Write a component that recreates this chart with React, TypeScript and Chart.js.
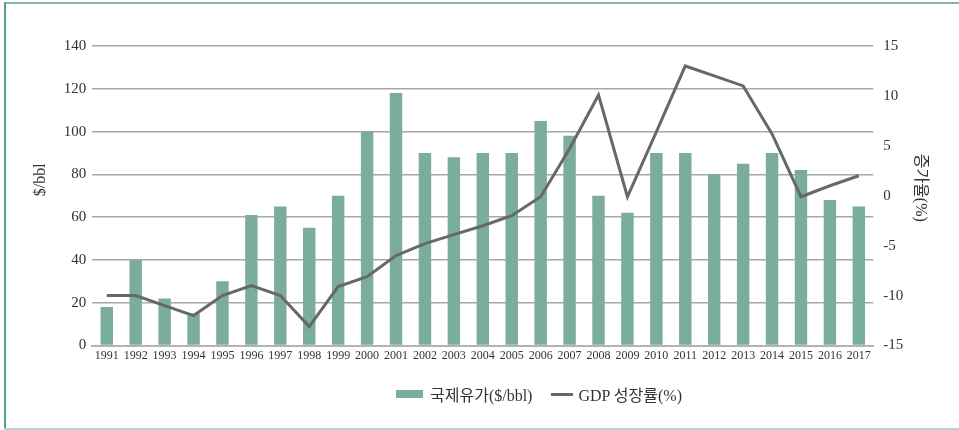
import React, { useEffect, useRef } from 'react';
import { Chart, registerables } from 'chart.js';

Chart.register(...registerables);

const years = ['1991', '1992', '1993', '1994', '1995', '1996', '1997', '1998', '1999', '2000', '2001', '2002', '2003', '2004', '2005', '2006', '2007', '2008', '2009', '2010', '2011', '2012', '2013', '2014', '2015', '2016', '2017'];
const oilPrice = [18, 40, 22, 15, 30, 61, 65, 55, 70, 100, 118, 90, 88, 90, 90, 105, 98, 70, 62, 90, 90, 80, 85, 90, 82, 68, 65];
const gdpGrowth = [-10, -10, -11, -12, -10, -9, -10, -13.1, -9.1, -8.1, -6, -4.8, -3.9, -3, -2, -0.1, 4.7, 10.1, -0.1, 6.4, 13, 12, 11, 6.2, -0.1, 1, 2];

const oilLabel = '국제유가($/bbl)';
const gdpLabel = 'GDP 성장률(%)';
const leftTitle = '        $/bbl';
const rightTitle = '증가율(%)    ';

const FONT = '"Liberation Serif", "Noto Sans CJK KR", serif';
const BAR_COLOR = '#7bad9b';
const LINE_COLOR = '#686868';

export default function App() {
  const ref = useRef<HTMLCanvasElement>(null);

  useEffect(() => {
    const chart = new Chart(ref.current!, {
      data: {
        labels: years,
        datasets: [
          {
            type: 'line',
            label: gdpLabel,
            data: gdpGrowth,
            yAxisID: 'y1',
            borderColor: LINE_COLOR,
            backgroundColor: LINE_COLOR,
            borderWidth: 3,
            pointRadius: 0,
            tension: 0,
            order: 0,
          },
          {
            type: 'bar',
            label: oilLabel,
            data: oilPrice,
            yAxisID: 'y',
            backgroundColor: BAR_COLOR,
            barPercentage: 0.43,
            categoryPercentage: 1,
            order: 1,
          },
        ],
      } as any,
      options: {
        responsive: false,
        animation: false,
        layout: { padding: { left: 0, right: 0, top: 46, bottom: 64.5 } },
        plugins: { legend: { display: false }, tooltip: { enabled: false } },
        scales: {
          x: {
            grid: { display: false, drawTicks: false },
            border: { display: true, color: '#b3b3b3', width: 2 },
            ticks: { font: { family: FONT, size: 12 }, color: '#333', padding: 3, maxRotation: 0, autoSkip: false },
            afterFit: (s: any) => { s.height = 20; },
          },
          y: {
            position: 'left',
            min: 0,
            max: 140,
            ticks: { stepSize: 20, font: { family: FONT, size: 15 }, color: '#333', padding: 6 },
            grid: { color: '#a8a8a8', lineWidth: 1.5, drawTicks: false },
            border: { display: false },
            title: { display: true, text: leftTitle, font: { family: FONT, size: 16 }, color: '#333', padding: { top: 31, bottom: 0 } },
            afterFit: (s: any) => { s.width = 92.3; },
          },
          y1: {
            position: 'right',
            min: -15,
            max: 15,
            ticks: { stepSize: 5, font: { family: FONT, size: 15 }, color: '#333', padding: 10 },
            grid: { display: false, drawTicks: false },
            border: { display: false },
            title: { display: true, text: rightTitle, font: { family: FONT, size: 16 }, color: '#333', padding: { top: 29, bottom: 0 } },
            afterFit: (s: any) => { s.width = 959 - 873.3; },
          },
        },
      } as any,
    });
    return () => chart.destroy();
  }, []);

  return (
    <div style={{ position: 'fixed', left: 0, top: 0, width: 959, height: 430, background: '#fff' }}>
      <canvas ref={ref} width={959} height={430} style={{ position: 'absolute', left: 0, top: 0 }} />
      <div style={{ position: 'absolute', left: 4, top: 2, width: 955, height: 1.5, background: '#7fb8a4' }} />
      <div style={{ position: 'absolute', left: 4, top: 2, width: 1.5, height: 427, background: '#5a9e84' }} />
      <div style={{ position: 'absolute', left: 4, top: 428, width: 955, height: 1.5, background: '#b8d4ca' }} />
      <div style={{ position: 'absolute', left: 396, top: 385, height: 18, display: 'flex', alignItems: 'center', fontFamily: FONT, fontSize: 16, color: '#333', whiteSpace: 'nowrap' }}>
        <span style={{ display: 'inline-block', width: 27, height: 8, background: BAR_COLOR, marginRight: 7 }} />
        <span>{oilLabel}</span>
        <span style={{ display: 'inline-block', width: 22, height: 3, background: LINE_COLOR, marginLeft: 19, marginRight: 5 }} />
        <span>{gdpLabel}</span>
      </div>
    </div>
  );
}
